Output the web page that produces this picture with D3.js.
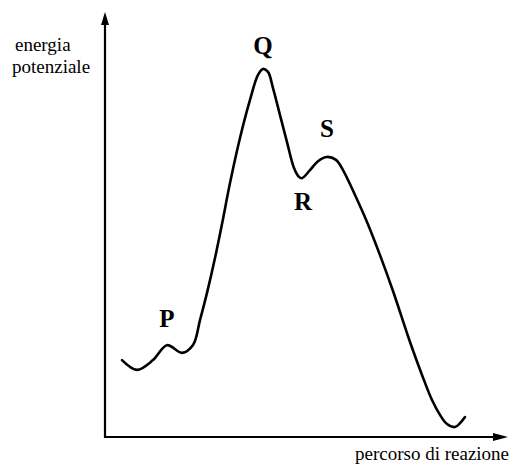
<!DOCTYPE html>
<html lang="it">
<head>
    <meta charset="UTF-8">
    <title>Energia potenziale</title>
    <script src="https://d3js.org/d3.v7.min.js"></script>
    <style>
        body { margin: 0; background: #fff; }
        text { font-family: "Liberation Serif", "DejaVu Serif", serif; fill: #000; }
    </style>
</head>
<body>
    <svg id="chart" width="510" height="466"></svg>

    <script>
        // Reaction coordinate (0-100) and potential energy (0-100)
        const coord = [4.25, 8, 12, 15.5, 19.25, 22, 23.75, 25.5, 27.5, 29.25, 31.25, 33.75, 36.25, 38.25,
            39.5, 40.75, 42, 43.75, 45.5, 47.25, 48.5, 49.25, 51.25, 53.25, 55.5, 57.75, 59.5, 62.5,
            65.5, 68.75, 72, 76.25, 79.25, 81.75, 83.75, 85.5, 87.5, 90];
        const energy = [18.1, 15.8, 18.1, 21.6, 19.8, 21.65, 27.5, 33.9, 42.1, 50.1, 59.75, 70.35, 79.3, 85.2,
            86.6, 85.9, 82.1, 75.75, 69.4, 63.3, 61.2, 60.9, 62.8, 64.9, 65.9, 65.2, 62.8, 56.95,
            50.6, 42.8, 34.35, 22.35, 14.6, 8.7, 5.2, 3.05, 2.35, 4.7];

        // Point labels
        const labels = ["P", "Q", "R", "S"];
        const labelX = [15.5, 39.5, 49.5, 55.5];
        const labelY = [25.8, 90.2, 53.3, 70.5];

        const svg = d3.select("#chart");
        const margin = { top: 12, right: 5, bottom: 29, left: 105 };
        const width = 510 - margin.left - margin.right;
        const height = 466 - margin.top - margin.bottom;

        const x = d3.scaleLinear().domain([0, 100]).range([margin.left, margin.left + width]);
        const y = d3.scaleLinear().domain([0, 100]).range([margin.top + height, margin.top]);

        // Axes with arrowheads
        const x0 = x(0), y0 = y(0);
        svg.append("line")
            .attr("x1", x0).attr("y1", y0 + 1)
            .attr("x2", x0).attr("y2", y(100) + 8)
            .attr("stroke", "#000").attr("stroke-width", 2.2);
        svg.append("line")
            .attr("x1", x0 - 1).attr("y1", y0)
            .attr("x2", x(100) - 10).attr("y2", y0)
            .attr("stroke", "#000").attr("stroke-width", 2.2);

        svg.append("path")
            .attr("d", `M${x0},${y(100)} L${x0 - 4},${y(100) + 13} L${x0 + 4},${y(100) + 13} Z`)
            .attr("fill", "#000");
        svg.append("path")
            .attr("d", `M${x(100) + 3},${y0} L${x(100) - 12},${y0 - 4} L${x(100) - 12},${y0 + 4} Z`)
            .attr("fill", "#000");

        // Energy profile
        const line = d3.line()
            .x(d => x(d[0]))
            .y(d => y(d[1]))
            .curve(d3.curveCatmullRom.alpha(0.5));

        svg.append("path")
            .datum(coord.map((c, i) => [c, energy[i]]))
            .attr("d", line)
            .attr("fill", "none")
            .attr("stroke", "#000")
            .attr("stroke-width", 2.6)
            .attr("stroke-linecap", "round")
            .attr("stroke-linejoin", "round");

        svg.selectAll("text.pt")
            .data(labels)
            .enter()
            .append("text")
            .attr("class", "pt")
            .attr("x", (d, i) => x(labelX[i]))
            .attr("y", (d, i) => y(labelY[i]))
            .attr("text-anchor", "middle")
            .attr("font-size", 25)
            .attr("font-weight", "bold")
            .text(d => d);

        // Axis titles
        svg.append("text").attr("x", 15).attr("y", 51).attr("font-size", 19).text("energia");
        svg.append("text").attr("x", 12).attr("y", 73).attr("font-size", 19).text("potenziale");
        svg.append("text").attr("x", 355).attr("y", 460).attr("font-size", 19).text("percorso di reazione");
    </script>
</body>
</html>
